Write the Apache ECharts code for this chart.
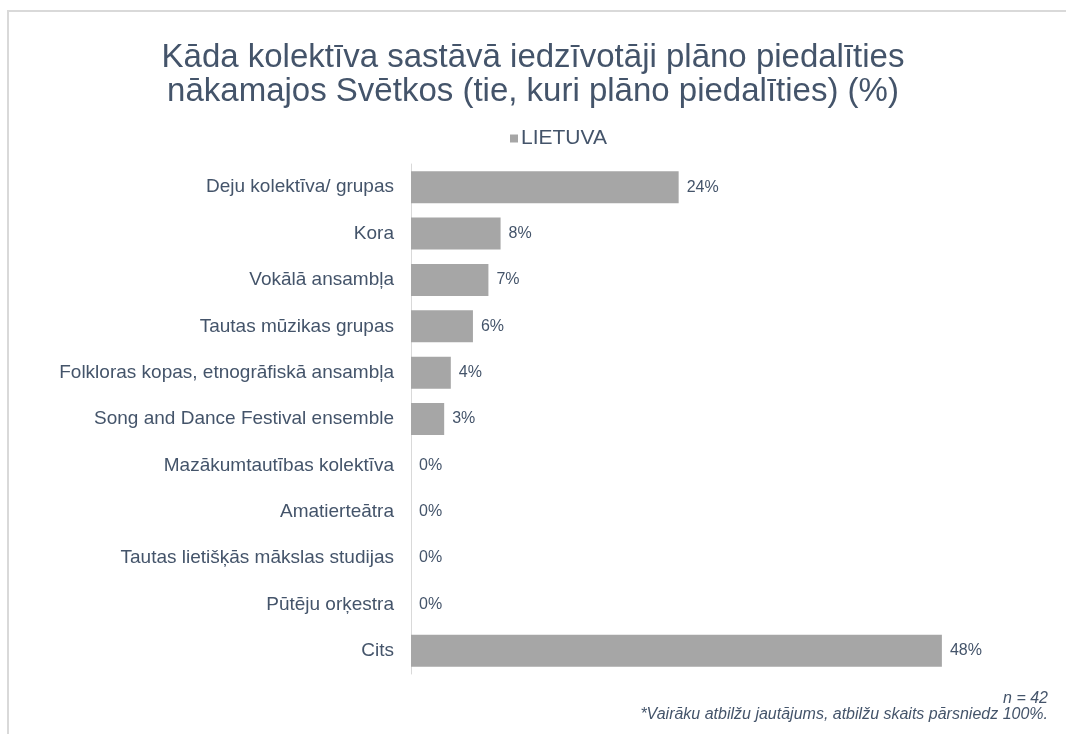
<!DOCTYPE html>
<html>
<head>
<meta charset="utf-8">
<script src="https://cdn.jsdelivr.net/npm/echarts@6/dist/echarts.min.js"></script>
<style>
  html, body { margin: 0; padding: 0; background: #ffffff; }
  #frame {
    position: absolute; left: 7px; top: 10px; width: 1100px; height: 800px;
    border-top: 2px solid #d9d9d9; border-left: 2px solid #d9d9d9;
    box-sizing: border-box;
  }
  #chart { position: absolute; left: 0; top: 0; width: 1066px; height: 734px; }
</style>
</head>
<body>
<div id="frame"></div>
<div id="chart"></div>
<script>
const titleLines = [
  'Kāda kolektīva sastāvā iedzīvotāji plāno piedalīties',
  'nākamajos Svētkos (tie, kuri plāno piedalīties) (%)'
]
const seriesName = 'LIETUVA'
const categories = [
  'Deju kolektīva/ grupas',
  'Kora',
  'Vokālā ansambļa',
  'Tautas mūzikas grupas',
  'Folkloras kopas, etnogrāfiskā ansambļa',
  'Song and Dance Festival ensemble',
  'Mazākumtautības kolektīva',
  'Amatierteātra',
  'Tautas lietišķās mākslas studijas',
  'Pūtēju orķestra',
  'Cits'
]
// bar lengths, labels show them rounded
const values = [24.2, 8.1, 7.0, 5.6, 3.6, 3.0, 0, 0, 0, 0, 48]
const footnoteLines = [
  'n = 42',
  '*Vairāku atbilžu jautājums, atbilžu skaits pārsniedz 100%.'
]

const textColor = '#44546a'
const barColor = '#a6a6a6'
const fontFamily = '"Liberation Sans", Arial, Helvetica, sans-serif'

const chart = echarts.init(document.getElementById('chart'))

chart.setOption({
  animation: false,
  textStyle: { fontFamily },
  title: {
    text: titleLines.join('\n'),
    left: 'center',
    top: 36,
    textStyle: {
      color: textColor,
      fontSize: 33,
      fontWeight: 'normal',
      lineHeight: 34,
      fontFamily
    }
  },
  legend: {
    data: [seriesName],
    top: 123,
    left: 505,
    icon: 'rect',
    itemWidth: 8,
    itemHeight: 8,
    itemGap: 4,
    textStyle: { color: textColor, fontSize: 21, fontFamily, padding: [0, 0, 0, -2] }
  },
  grid: {
    left: 411,
    right: 102,
    top: 164,
    bottom: 60,
    containLabel: false
  },
  xAxis: {
    type: 'value',
    min: 0,
    max: 50,
    show: false
  },
  yAxis: {
    type: 'category',
    data: categories,
    inverse: true,
    axisLine: { show: true, lineStyle: { color: '#d9d9d9', width: 1 } },
    axisTick: { show: false },
    axisLabel: {
      color: textColor,
      fontSize: 19,
      margin: 17,
      fontFamily
    }
  },
  series: [{
    name: seriesName,
    type: 'bar',
    data: values,
    barWidth: 32,
    itemStyle: { color: barColor },
    label: {
      show: true,
      position: 'right',
      distance: 8,
      color: textColor,
      fontSize: 16,
      fontFamily,
      formatter: (p) => Math.round(p.value) + '%'
    }
  }],
  graphic: footnoteLines.map((line, i) => ({
    type: 'text',
    right: 18,
    top: 691 + i * 16,
    style: {
      text: line,
      fill: textColor,
      font: 'italic 16px ' + fontFamily
    }
  }))
})
</script>
</body>
</html>
